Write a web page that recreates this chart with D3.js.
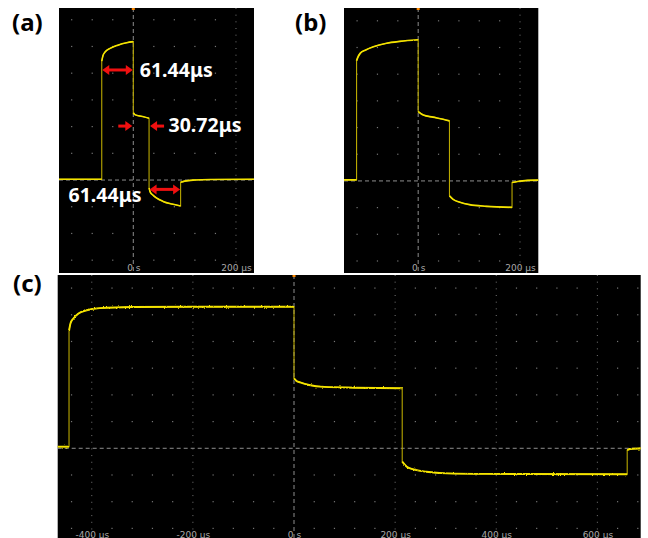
<!DOCTYPE html>
<html>
<head>
<meta charset="utf-8">
<script src="https://cdn.jsdelivr.net/npm/d3@7"></script>
<style>
  html, body { margin: 0; padding: 0; background: #fff; }
  svg { display: block; }
</style>
</head>
<body>
<svg id="chart" width="648" height="538"></svg>
<script>
// Each trace is a list of plateaus: [time in µs, level in screen divisions].
// Consecutive plateaus are joined by the vertical switching edges.
const traceA = [
  [[-145, 0.03], [-61.44, 0.03]],
  [[-61.44, 4.45], [-59, 4.66], [-55, 4.79], [-45, 4.93], [-30, 5.05], [-13, 5.14], [0, 5.18]],
  [[0, 2.52], [3, 2.45], [10, 2.41], [20, 2.37], [30.72, 2.31]],
  [[30.72, -0.3], [33, -0.45], [38, -0.56], [45, -0.67], [58, -0.8], [75, -0.9], [92.16, -0.97]],
  [[92.16, -0.08], [100, -0.04], [120, 0.0], [150, 0.02], [236, 0.03]]
];

const traceB = [
  [[-146, 0.04], [-121, 0.04]],
  [[-121, 4.5], [-118.8, 4.62], [-114, 4.78], [-104, 4.9], [-88, 5.03], [-62, 5.16], [-36, 5.23], [0, 5.29]],
  [[0, 2.6], [10, 2.47], [29, 2.39], [49, 2.31], [61.44, 2.25]],
  [[61.44, -0.56], [68.6, -0.69], [82, -0.8], [101, -0.89], [134, -0.95], [184.32, -0.99]],
  [[184.32, -0.06], [195, -0.02], [215, 0.02], [237, 0.03]]
];

const traceC = [
  [[-468, 0.06], [-445, 0.06]],
  [[-445, 4.4], [-442, 4.68], [-436, 4.87], [-427, 5.04], [-410, 5.17], [-384, 5.25], [-320, 5.29], [-200, 5.3], [0, 5.3]],
  [[0, 2.62], [5, 2.52], [12, 2.47], [30, 2.37], [60, 2.3], [120, 2.27], [214, 2.25]],
  [[214, -0.5], [223, -0.69], [236, -0.79], [262, -0.88], [302, -0.94], [380, -0.96], [659, -0.97]],
  [[659, -0.07], [665, -0.03], [690, 0.0]]
];

// Labelled time gridlines (µs)
const ticksAB = [0, 200];
const ticksC = [-400, -200, 0, 200, 400, 600];

// Pulse-width annotations on trace (a): span in µs, level in divisions
const spanLabels = ["61.44μs", "30.72μs", "61.44μs"];
const spanFrom = [-61.44, 0, 30.72];
const spanTo = [0, 30.72, 92.16];
const spanLevel = [4.12, 2.02, -0.35];

const panels = [
  { name: "(a)", box: [59, 8, 254, 273], xDom: [-144.7, 235.1], yDom: [-3.48, 6.44],
    trace: traceA, ticks: ticksAB, labelPos: [12, 31], tickY: 270.5, thick: 1.6, jitter: 1.4 },
  { name: "(b)", box: [344, 8, 538.3, 273], xDom: [-145.7, 235.9], yDom: [-3.45, 6.48],
    trace: traceB, ticks: ticksAB, labelPos: [295, 31], tickY: 270.5, thick: 1.7, jitter: 1.8 },
  { name: "(c)", box: [57.7, 275, 640.7, 538], xDom: [-467.4, 685.7], yDom: [-3.36, 6.49],
    trace: traceC, ticks: ticksC, labelPos: [13, 292], tickY: 537.5, thick: 1.9, jitter: 2.6 }
];

const svg = d3.select("#chart");
const defs = svg.append("defs");

const TRACE = "#f4e300";
const EDGE = "#b9a800";
const GRID = "#767676";

panels.forEach((p, i) => {
  const [x0, y0, x1, y1] = p.box;
  const x = d3.scaleLinear().domain(p.xDom).range([x0, x1]);
  const y = d3.scaleLinear().domain(p.yDom).range([y1, y0]);

  defs.append("clipPath").attr("id", "clip" + i)
    .append("rect").attr("x", x0).attr("y", y0).attr("width", x1 - x0).attr("height", y1 - y0);

  // light sampling noise on the trace
  const f = defs.append("filter").attr("id", "noise" + i)
    .attr("filterUnits", "userSpaceOnUse")
    .attr("x", 0).attr("y", 0).attr("width", 648).attr("height", 538);
  f.append("feTurbulence").attr("type", "fractalNoise")
    .attr("baseFrequency", "0.9 0.6").attr("numOctaves", 1).attr("seed", 7 + i).attr("result", "n");
  f.append("feDisplacementMap").attr("in", "SourceGraphic").attr("in2", "n")
    .attr("scale", p.jitter).attr("xChannelSelector", "R").attr("yChannelSelector", "G");

  svg.append("rect").attr("x", x0).attr("y", y0)
    .attr("width", x1 - x0).attr("height", y1 - y0).attr("fill", "#000");

  const g = svg.append("g").attr("clip-path", `url(#clip${i})`);

  // graticule dots: 40 µs per horizontal division, 1 division vertically
  const cols = d3.range(Math.ceil(p.xDom[0] / 40), Math.floor(p.xDom[1] / 40) + 1)
    .map(k => k * 40).filter(t => t !== 0 && !p.ticks.includes(t));
  const rows = d3.range(Math.ceil(p.yDom[0]), Math.floor(p.yDom[1]) + 1).filter(v => v !== 0);
  const dots = [];
  cols.forEach(t => rows.forEach(v => dots.push([t, v])));
  g.selectAll("rect.dot").data(dots).join("rect").attr("class", "dot")
    .attr("x", d => x(d[0]) - 0.6).attr("y", d => y(d[1]) - 0.6)
    .attr("width", 1.2).attr("height", 1.2).attr("fill", GRID);

  // labelled time lines (fine dotted)
  g.selectAll("line.tl").data(p.ticks.filter(t => t !== 0)).join("line").attr("class", "tl")
    .attr("x1", d => x(d)).attr("x2", d => x(d)).attr("y1", y0).attr("y2", y1)
    .attr("stroke", GRID).attr("stroke-width", 1).attr("stroke-dasharray", "1 5.67");

  // centre cross-hair (dashed)
  g.append("line").attr("x1", x(0)).attr("x2", x(0)).attr("y1", y0).attr("y2", y1)
    .attr("stroke", "#8e8e8e").attr("stroke-width", 1).attr("stroke-dasharray", "4 3");
  g.append("line").attr("x1", x0).attr("x2", x1).attr("y1", y(0)).attr("y2", y(0))
    .attr("stroke", "#8e8e8e").attr("stroke-width", 1).attr("stroke-dasharray", "4 3");

  // trigger marker
  g.append("rect").attr("x", x(0) - 1.5).attr("y", y0).attr("width", 3).attr("height", 2)
    .attr("fill", "#ff8a00");

  // time labels
  const fmt = t => t === 0 ? "0 s" : `${t} µs`;
  const axis = d3.axisBottom(x).tickValues(p.ticks).tickFormat(fmt).tickSize(0).tickPadding(0);
  const ax = svg.append("g").attr("transform", `translate(0,${p.tickY})`).call(axis);
  ax.select(".domain").remove();
  ax.selectAll("text").attr("dy", 0).attr("fill", "#a9a9a9")
    .attr("font-family", "'DejaVu Sans', sans-serif").attr("font-size", 9);

  // trace: dim fast edges underneath, bright plateaus on top
  const line = d3.line().x(d => x(d[0])).y(d => y(d[1])).curve(d3.curveMonotoneX);
  const full = p.trace.map((seg, k) => {
    const s = line(seg);
    return k === 0 ? s : "L" + s.slice(1);
  }).join("");
  g.append("path").attr("d", full).attr("fill", "none")
    .attr("stroke", EDGE).attr("stroke-width", 1.1);
  g.selectAll("path.seg").data(p.trace).join("path").attr("class", "seg")
    .attr("d", line).attr("fill", "none").attr("stroke", TRACE)
    .attr("stroke-width", p.thick).attr("stroke-linejoin", "round")
    .attr("filter", `url(#noise${i})`);

  // panel letter
  svg.append("text").attr("x", p.labelPos[0]).attr("y", p.labelPos[1])
    .attr("font-family", "'Noto Sans', sans-serif").attr("font-weight", 700)
    .attr("font-size", 24).attr("fill", "#000").text(p.name);

  if (i === 0) {
    const RED = "#f01010";
    const ann = svg.append("g");
    const head = (tipX, yy, dir) => {
      // dir = +1 points right, -1 points left
      ann.append("path")
        .attr("d", `M${tipX},${yy} L${tipX - dir * 7},${yy - 5} L${tipX - dir * 7},${yy + 5} Z`)
        .attr("fill", RED);
    };
    const label = (lab) => ann.append("text")
      .attr("font-family", "'Noto Sans', sans-serif").attr("font-weight", 700)
      .attr("font-size", 19.5).attr("fill", "#fff").text(lab);
    spanLabels.forEach((lab, k) => {
      const xa = x(spanFrom[k]), xb = x(spanTo[k]), yy = y(spanLevel[k]);
      if (k === 1) {
        // inward arrows marking a short gap
        ann.append("line").attr("x1", xa - 15).attr("x2", xa - 6).attr("y1", yy).attr("y2", yy)
          .attr("stroke", RED).attr("stroke-width", 3);
        head(xa - 1, yy, 1);
        ann.append("line").attr("x1", xb + 6).attr("x2", xb + 15).attr("y1", yy).attr("y2", yy)
          .attr("stroke", RED).attr("stroke-width", 3);
        head(xb + 1, yy, -1);
        label(lab).attr("x", xb + 19.5).attr("y", yy + 6);
      } else {
        ann.append("line").attr("x1", xa + 5).attr("x2", xb - 5).attr("y1", yy).attr("y2", yy)
          .attr("stroke", RED).attr("stroke-width", 3);
        head(xa + 0.5, yy, -1);
        head(xb - 0.5, yy, 1);
        const t = label(lab);
        if (k === 0) t.attr("x", xb + 6.5).attr("y", yy + 7);
        else t.attr("x", xa - 7.5).attr("y", yy + 13).attr("text-anchor", "end");
      }
    });
  }
});
</script>
</body>
</html>
